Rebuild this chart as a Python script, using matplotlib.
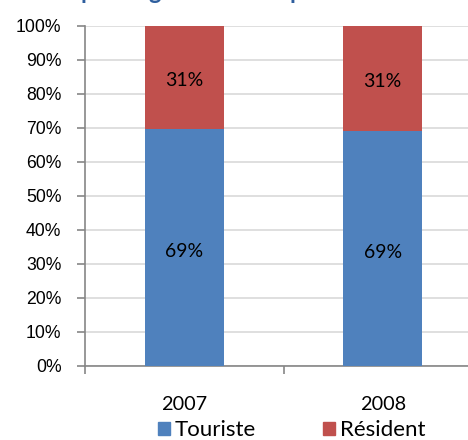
import matplotlib
matplotlib.use("Agg")
import matplotlib.pyplot as plt
from matplotlib.patches import Patch

years = ["2007", "2008"]
touriste = [69.5, 69.0]
resident = [30.5, 31.0]
touriste_labels = ["69%", "69%"]
resident_labels = ["31%", "31%"]
y_ticks = [0, 10, 20, 30, 40, 50, 60, 70, 80, 90, 100]

plt.rcParams["font.family"] = ["Lato", "DejaVu Sans"]

W, H = 468, 440
fig = plt.figure(figsize=(W / 100, H / 100), dpi=100)

# axes run past the right edge, same as the cropped original
left, right, top, bottom = 85, 482, 25.5, 366
ax = fig.add_axes([left / W, 1 - bottom / H, (right - left) / W, (bottom - top) / H])

x = [0, 1]
blue = "#4F81BD"
red = "#C0504D"
ax.bar(x, touriste, width=0.4, color=blue, zorder=3)
ax.bar(x, resident, width=0.4, bottom=touriste, color=red, zorder=3)

for i in x:
    ax.text(i, touriste[i] / 2 - 1.2, touriste_labels[i], ha="center", va="center", fontsize=14, color="black", zorder=4)
    ax.text(i, touriste[i] + resident[i] / 2 - 1.0, resident_labels[i], ha="center", va="center", fontsize=14, color="black", zorder=4)

ax.set_xlim(-0.5, 1.5)
ax.set_ylim(0, 100)
ax.set_yticks(y_ticks)
ax.set_yticklabels([str(v) + "%" for v in y_ticks], fontsize=12.7, color="black", family="Liberation Sans")
ax.grid(axis="y", color="#D9D9D9", linewidth=1.2, zorder=0)

ax.set_xticks([-0.5, 0.5, 1.5])
ax.set_xticklabels([])
ax.tick_params(axis="y", length=6, color="#868686", width=1.2, pad=11)
ax.tick_params(axis="x", length=6, color="#868686", width=1.2)

for s in ["top", "right"]:
    ax.spines[s].set_visible(False)
for s in ["left", "bottom"]:
    ax.spines[s].set_color("#868686")
    ax.spines[s].set_linewidth(1.2)

for i in x:
    ax.text(i, -11.2, years[i], ha="center", va="center", fontsize=14.3, color="black", clip_on=False)

handles = [Patch(color=blue, label="Touriste"), Patch(color=red, label="Résident")]
fig.legend(handles=handles, loc="center", bbox_to_anchor=(291.5 / W, 1 - 430 / H), ncol=2, frameon=False,
           fontsize=16, handlelength=0.54, handleheight=0.54, handletextpad=0.22, columnspacing=3.0,
           borderpad=0)

# only the descenders of the title are left at the top of the crop
title_color = "#2F5F9E"
for letter, px in [("p", 87), ("g", 155), ("p", 296)]:
    fig.text(px / W, 1 + 1 / H, letter, ha="center", va="baseline", fontsize=17, fontweight="bold", color=title_color)

fig.savefig("out.png", dpi=100)
